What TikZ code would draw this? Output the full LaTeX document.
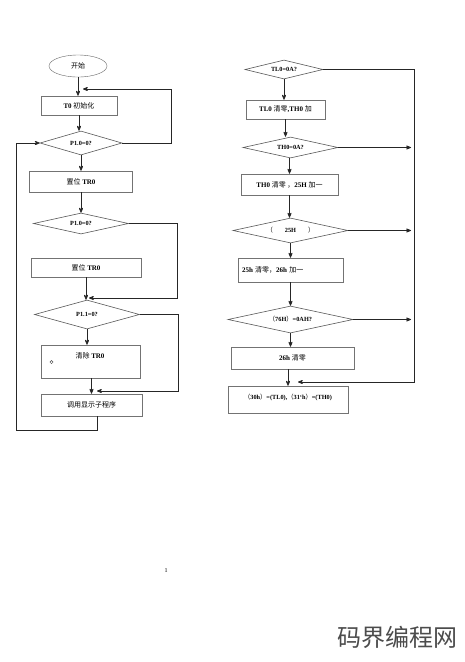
\documentclass[tikz,border=0pt]{standalone}
\usepackage{fontspec}
\setmainfont{Liberation Serif}
\newfontfamily\cjk{Noto Sans CJK SC}
\newcommand{\zh}[1]{{\cjk\mdseries #1}}
\usetikzlibrary{arrows,calc,positioning,shapes.geometric}
\tikzset{
	blk/.style={draw=black!55,rectangle,inner sep=1pt,line width=0.6pt,font=\fontsize{7}{8}\selectfont\bfseries},
	dec/.style={draw=black!65,diamond,aspect=4,inner sep=1pt,line width=0.6pt,font=\fontsize{6.3}{7}\selectfont\bfseries},
	ln/.style={black!85,line width=0.75pt},
}

\begin{document}
\begin{tikzpicture}[x=1pt,y=-1pt,>=stealth',align=center]
			\useasboundingbox[fill=white] (0,0) rectangle (465,662);
			\node[draw=black!60,ellipse,minimum width=58pt,minimum height=22pt,inner sep=0pt,font=\fontsize{7}{8}\selectfont] (start) at (78,66) {\zh{开始}};
			\node[blk,minimum width=76pt,minimum height=19pt] (init) at (79,105.5) {T0 \zh{初始化}};
			\node[dec,minimum width=82pt,minimum height=24pt] (d1) at (81,143) {P1.0=0?};
			\node[blk,minimum width=103pt,minimum height=21pt] (tr1) at (81,181.5) {\zh{置位} TR0};
			\node[dec,minimum width=95pt,minimum height=21pt] (d2) at (81,223.5) {P1.0=0?};
			\node[blk,minimum width=110pt,minimum height=19pt] (tr2) at (86,267.5) {\zh{置位} TR0};
			\node[dec,minimum width=105pt,minimum height=29pt] (d3) at (87,314.5) {P1.1=0?};
			\node[blk,minimum width=99pt,minimum height=33pt] (clr) at (90.5,361.5) {};
			\node[font=\fontsize{7}{8}\selectfont\bfseries] (clrt) at (90,356) {\zh{清除} TR0};
			\node[blk,minimum width=101pt,minimum height=22pt] (call) at (91.5,405) {\zh{调用显示子程序}};
			\draw[black!70,line width=0.5pt] (51.5,362) circle (1.6pt);
			\coordinate (j1) at (83,89);
			\coordinate (j2) at (89,298);
			\coordinate (j3) at (97,391);
			\coordinate (lb) at (16,430);
			\path[->,ln]
			(start) edge (start.south |- init.north)
			(init.south) edge (init.south |- d1.north)
			(d1.south) edge (d1.south |- tr1.north)
			(tr1.south) edge (tr1.south |- d2.north)
			(tr2.south) edge (tr2.south |- d3.north)
			(d3.south) edge (d3.south |- clr.north)
			(clr.south -| call.north) edge (call.north);
			\draw[->,ln] (d1.east) -- ++(49,0) |- (j1);
			\draw[->,ln] (d2.east) -- ++(49,0) |- (j2);
			\draw[->,ln] (d3.east) -- ++(39,0) |- (j3);
			\draw[->,ln] ([xshift=5.5pt]call.south) |- (lb) |- (d1.west);
			\node[dec,minimum width=78pt,minimum height=19pt] (dA) at (284,69.5) {TL0=0A?};
			\node[blk,minimum width=79pt,minimum height=19pt] (bB) at (285.5,109.5) {TL0 \zh{清零},TH0 \zh{加}};
			\node[dec,minimum width=95pt,minimum height=21pt] (dC) at (290.5,147.5) {TH0=0A?};
			\node[blk,minimum width=97pt,minimum height=21pt] (bD) at (289.5,184.5) {TH0 \zh{清零 ，}25H \zh{加一}};
			\node[dec,minimum width=115pt,minimum height=25pt] (dE) at (290.5,230.5) {\zh{（}\hspace{12pt}25H\hspace{12pt}\zh{）}};
			\node[blk,minimum width=105pt,minimum height=24pt,text width=97pt,align=left] (bF) at (290.5,270) {25h \zh{清零，}26h \zh{加一}};
			\node[dec,minimum width=125pt,minimum height=27pt] (dG) at (290.5,319.5) {\zh{（}76H\zh{）}=0AH?};
			\node[blk,minimum width=123pt,minimum height=22pt] (bH) at (292.5,358) {26h \zh{清零}};
			\node[blk,minimum width=120pt,minimum height=27pt] (bI) at (288,399.5) {};
			\node[font=\fontsize{6.3}{7}\selectfont\bfseries] (bIt) at (288,397) {\zh{（}30h\zh{）}=(TL0),\zh{（}31`h\zh{）}=(TH0)};
			\coordinate (rl) at (411,0);
			\coordinate (j4) at (298,382);
			\path[->,ln]
			(dA.south) edge (dA.south |- bB.north)
			(bB.south) edge (bB.south |- dC.north)
			(dC.south -| bD.north) edge (bD.north)
			(bD.south) edge (bD.south |- dE.north)
			(dE.south -| bF.north) edge (bF.north)
			(bF.south) edge (bF.south |- dG.north)
			(dG.south) edge (dG.south |- bH.north)
			(bH.south -| bI.north) edge (bI.north)
			(dC.east) edge (dC.east -| rl)
			(dE.east) edge (dE.east -| rl)
			(dG.east) edge (dG.east -| rl);
			\draw[->,ln] (dA.east) -- ++(91,0) |- (j4);
			\node[font=\fontsize{6}{7}\selectfont] (pg) at (166,571) {1};
			\node[font=\cjk\fontsize{24}{26}\selectfont,text=black!70] (wm) at (397,637) {码界编程网};
		\end{tikzpicture}
\end{document}
